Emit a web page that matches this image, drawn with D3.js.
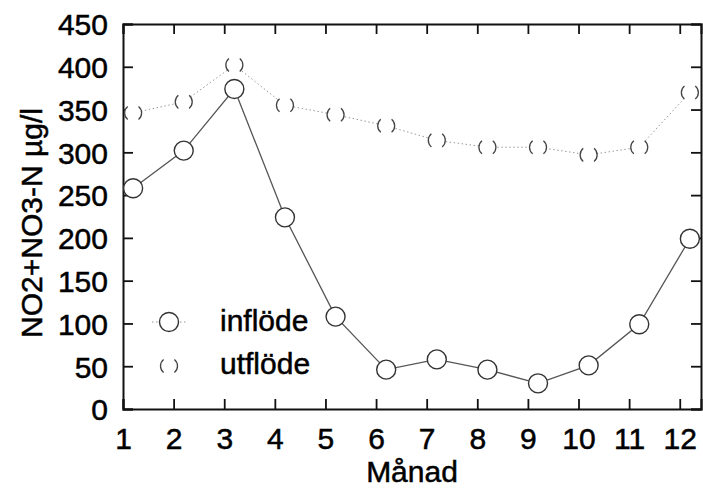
<!DOCTYPE html>
<html lang="sv">
<head>
<meta charset="UTF-8">
<title>NO2+NO3-N</title>
<script src="https://d3js.org/d3.v7.min.js"></script>
<style>
    body { margin: 0; background: #fff; }
    svg text { font-family: "Liberation Sans", Arial, sans-serif; fill: #000; stroke: #000; stroke-width: 0.5px; }
    .axis path, .axis line { stroke: #111; }
    .axis path { stroke-width: 2; }
    .axis line { stroke-width: 1.8; }
</style>
</head>
<body>
<div id="chart"></div>
<script>
// månad 1-12
var months = [1, 2, 3, 4, 5, 6, 7, 8, 9, 10, 11, 12];
var inflode = [258, 302, 374, 224, 108, 46, 58, 46, 30, 51, 99, 199];
var utflode = [346, 359, 402, 355, 344, 331, 314, 306, 306, 297, 306, 370];
var yTicks = [0, 50, 100, 150, 200, 250, 300, 350, 400, 450];
var seriesNames = ["inflöde", "utflöde"];

var W = 703, H = 489;
var margin = { top: 24, right: 2, bottom: 80, left: 123 };
var width = W - margin.left - margin.right;
var height = H - margin.top - margin.bottom;
var fs = "30px";

var svg = d3.select("#chart").append("svg")
    .attr("width", W)
    .attr("height", H);

var g = svg.append("g")
    .attr("transform", "translate(" + margin.left + "," + margin.top + ")");

var x = d3.scaleLinear().domain([1, 12.42]).range([0, width]);
var y = d3.scaleLinear().domain([0, 450]).range([height, 0]);
var off = 0.2; // points sit a bit right of the month tick in the original

// axes, ticks pointing inward
g.append("g").attr("class", "axis")
    .attr("transform", "translate(0," + height + ")")
    .call(d3.axisBottom(x).tickValues(months).tickSize(-10).tickPadding(19).tickFormat(d3.format("d")))
    .call(a => a.selectAll("text").style("font-size", fs));

g.append("g").attr("class", "axis")
    .call(d3.axisTop(x).tickValues(months).tickSize(-10).tickFormat(""));

g.append("g").attr("class", "axis")
    .call(d3.axisLeft(y).tickValues(yTicks).tickSize(-10).tickPadding(15))
    .call(a => a.selectAll("text").style("font-size", fs).attr("dy", "0.36em"));

g.append("g").attr("class", "axis")
    .attr("transform", "translate(" + width + ",0)")
    .call(d3.axisRight(y).tickValues(yTicks).tickSize(-10).tickFormat(""));

// axis titles
g.append("text")
    .attr("x", width / 2)
    .attr("y", height + 73)
    .attr("text-anchor", "middle")
    .style("font-size", fs)
    .text("Månad");

svg.append("text")
    .attr("transform", "rotate(-90)")
    .attr("x", -223)
    .attr("y", 42)
    .attr("text-anchor", "middle")
    .style("font-size", fs)
    .text("NO2+NO3-N µg/l");

var inData = months.map((m, i) => ({ m: m, v: inflode[i] }));
var utData = months.map((m, i) => ({ m: m, v: utflode[i] }));

var line = d3.line().x(d => x(d.m + off)).y(d => y(d.v));

// utflöde: faint dotted line, broken circles
g.append("path")
    .datum(utData)
    .attr("fill", "none")
    .attr("stroke", "#999")
    .attr("stroke-width", 1)
    .attr("stroke-dasharray", "1.5,2.5")
    .attr("d", line);

// inflöde: solid line
g.append("path")
    .datum(inData)
    .attr("fill", "none")
    .attr("stroke", "#555")
    .attr("stroke-width", 1.3)
    .attr("d", line);

var utDash = "14 22 28 22 14";

g.selectAll(".ut")
    .data(utData)
    .enter().append("circle")
    .attr("class", "ut")
    .attr("cx", d => x(d.m + off))
    .attr("cy", d => y(d.v))
    .attr("r", 8.5)
    .attr("fill", "#fff")
    .attr("stroke", "#444")
    .attr("stroke-width", 1.3)
    .attr("pathLength", 100)
    .attr("stroke-dasharray", utDash);

g.selectAll(".in")
    .data(inData)
    .enter().append("circle")
    .attr("class", "in")
    .attr("cx", d => x(d.m + off))
    .attr("cy", d => y(d.v))
    .attr("r", 9.5)
    .attr("fill", "#fff")
    .attr("stroke", "#333")
    .attr("stroke-width", 1.4);

// legend
var legend = svg.append("g").attr("transform", "translate(169,322)");
legend.append("line")
    .attr("x1", -17).attr("x2", 19).attr("y1", 0).attr("y2", 0)
    .attr("stroke", "#999").attr("stroke-dasharray", "1.5,2.5");
legend.append("circle")
    .attr("r", 9.5).attr("fill", "#fff").attr("stroke", "#333").attr("stroke-width", 1.4);
legend.append("text")
    .attr("x", 51).attr("y", 9)
    .style("font-size", fs)
    .text(seriesNames[0]);

var legend2 = svg.append("g").attr("transform", "translate(169,366)");
legend2.append("circle")
    .attr("r", 8.5).attr("fill", "#fff").attr("stroke", "#444").attr("stroke-width", 1.3)
    .attr("pathLength", 100)
    .attr("stroke-dasharray", utDash);
legend2.append("text")
    .attr("x", 51).attr("y", 8)
    .style("font-size", fs)
    .text(seriesNames[1]);
</script>
</body>
</html>
